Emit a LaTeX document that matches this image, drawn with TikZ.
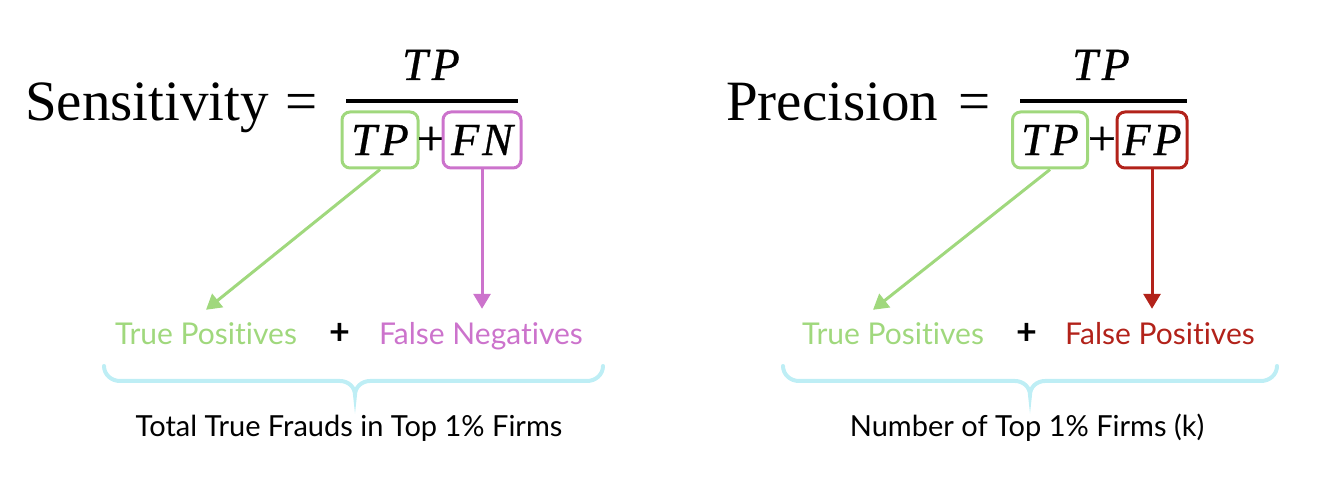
\documentclass[tikz,border=0pt]{standalone}
\usepackage{fontspec}
\setmainfont{Liberation Serif}
\newfontfamily\termfont[FakeBold=0.6]{Liberation Serif}
\newfontfamily\labelfont[Ligatures=NoCommon]{Lato}
\usetikzlibrary{arrows.meta,positioning}

\definecolor{tpgreen}{RGB}{160,216,125}
\definecolor{fnpink}{RGB}{204,115,204}
\definecolor{fpred}{RGB}{178,34,26}
\definecolor{bracecyan}{RGB}{190,238,245}

\tikzstyle{bigtext} = [inner sep=0pt, font=\fontsize{57}{60}\selectfont]
\tikzstyle{term} = [inner sep=0pt, font=\termfont\fontsize{46}{50}\selectfont\itshape]
\tikzstyle{termbox} = [term, draw, line width=3pt, rounded corners=8pt, minimum height=56pt]
\tikzstyle{plussign} = [inner sep=0pt, font=\termfont\fontsize{50}{54}\selectfont]
\tikzstyle{fracbar} = [draw, line width=4.5pt]
\tikzstyle{termlabel} = [inner sep=0pt, text height=23pt, font=\labelfont\fontsize{30}{34}\selectfont]
\tikzstyle{pluslabel} = [termlabel, font=\labelfont\bfseries\fontsize{36}{40}\selectfont]
\tikzstyle{captiontext} = [inner sep=0pt, font=\labelfont\fontsize{29}{33}\selectfont]
\tikzstyle{braceline} = [draw=bracecyan, line width=4pt, line cap=round]
\tikzstyle{arrowdecorate} = [-{Triangle[length=15pt,width=17pt]}, line width=3pt]

\begin{document}
\begin{tikzpicture}[x=1pt,y=-1pt]
  \useasboundingbox (0,0) rectangle (1334,486);
  % sensitivity formula
  \node[bigtext, anchor=base west] (sensL) at (25,121) {Sensitivity};
  \node[bigtext, anchor=base] (eqL) at (302,121) {=};
  \node[term, anchor=base] (numL) at (431,80) {T\kern4pt P};
  \node[termbox, draw=tpgreen, minimum width=76pt] (tpL) at (380,140) {T\kern4pt P};
  \node[plussign] (plusL) at (431,141) {+};
  \node[termbox, draw=fnpink, minimum width=78pt] (fnL) at (482,140) {F\kern3pt N};
  \draw[fracbar] (346,101) -- (518,101);

  % precision formula
  \node[bigtext, anchor=base west] (precR) at (726,121) {Precision};
  \node[bigtext, anchor=base] (eqR) at (975,121) {=};
  \node[term, anchor=base] (numR) at (1101,80) {T\kern4pt P};
  \node[termbox, draw=tpgreen, minimum width=75pt] (tpR) at (1050,140) {T\kern4pt P};
  \node[plussign] (plusR) at (1102,141) {+};
  \node[termbox, draw=fpred, minimum width=70pt] (fpR) at (1152,140) {F\kern3pt P};
  \draw[fracbar] (1020,101) -- (1187,101);

  % labels
  \foreach \nodename/\x/\txt/\col in {
    tpLlab/206/True Positives/tpgreen,
    fnLlab/481/False Negatives/fnpink,
    tpRlab/893/True Positives/tpgreen,
    fpRlab/1160/False Positives/fpred}
  {
    \node[termlabel, text=\col, anchor=base] (\nodename) at (\x,345) {\txt};
  };
  \node[pluslabel, anchor=base] (plusLlab) at (340,345) {+};
  \node[pluslabel, anchor=base] (plusRlab) at (1027,345) {+};

  % arrows
  \draw[arrowdecorate, tpgreen] (tpL.south) -- ([yshift=12pt]tpLlab.north);
  \draw[arrowdecorate, fnpink, shorten >=13pt] (fnL.south) -- (fnL.south |- fnLlab.north);
  \draw[arrowdecorate, tpgreen] (tpR.south) -- ([xshift=-20pt,yshift=12pt]tpRlab.north);
  \draw[arrowdecorate, fpred, shorten >=13pt] (fpR.south) -- (fpR.south |- fpRlab.north);

  % braces
  \foreach \xa/\xm/\xb in {104/355/603, 783/1030/1277}
  {
    \draw[braceline] (\xa,366) to[out=-90,in=180] ({\xa+16},381) -- ({\xm-15},381)
      to[out=0,in=90] (\xm,395) to[out=90,in=180] ({\xm+15},381) -- ({\xb-16},381)
      to[out=0,in=-90] (\xb,366);
  };

  % captions
  \node[captiontext, anchor=base] (totalL) at (349,436) {Total True Frauds in Top 1\% Firms};
  \node[captiontext, anchor=base] (countR) at (1027,436) {Number of Top 1\% Firms (k)};
\end{tikzpicture}
\end{document}
